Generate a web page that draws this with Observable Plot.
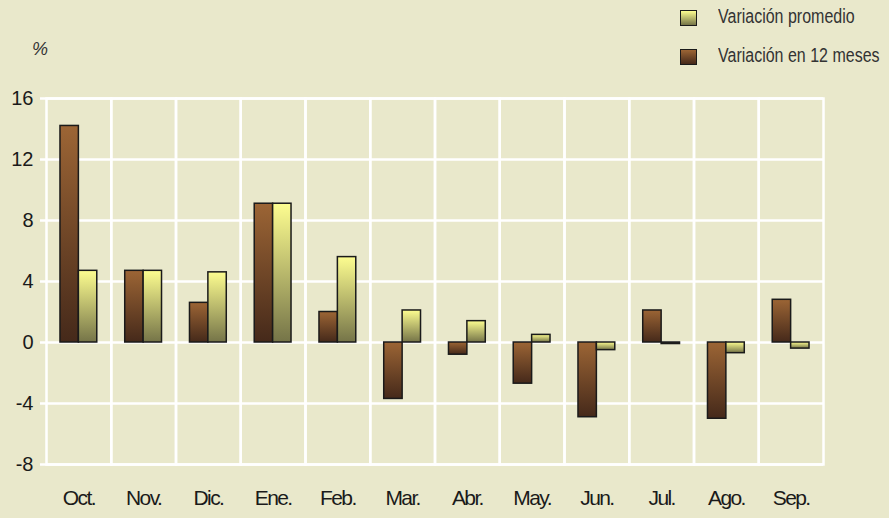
<!DOCTYPE html>
<html>
<head>
<meta charset="utf-8">
<script src="https://cdn.jsdelivr.net/npm/d3@7"></script>
<script src="https://cdn.jsdelivr.net/npm/@observablehq/plot@0.6"></script>
<style>
  html, body { margin: 0; padding: 0; background: #e9e8cb; }
  #wrap { position: relative; width: 889px; height: 518px; background: #e9e8cb; overflow: hidden; }
  .leg { position: absolute; font-family: "Liberation Sans", sans-serif; font-size: 20px; color: #333; white-space: nowrap; transform: scaleX(0.8); transform-origin: left center; }
  .sw { position: absolute; width: 15px; height: 14px; border: 1.5px solid #1a1a1a; }
  #pct { position: absolute; left: 32px; top: 39px; font-family: "Liberation Sans", sans-serif; font-style: italic; font-size: 18px; color: #333; }
</style>
</head>
<body>
<div id="wrap"></div>
<script>
const months = ["Oct.", "Nov.", "Dic.", "Ene.", "Feb.", "Mar.", "Abr.", "May.", "Jun.", "Jul.", "Ago.", "Sep."];
const var12 = [14.2, 4.7, 2.6, 9.1, 2.0, -3.7, -0.8, -2.7, -4.9, 2.1, -5.0, 2.8];
const varProm = [4.7, 4.7, 4.6, 9.1, 5.6, 2.1, 1.4, 0.5, -0.5, -0.1, -0.7, -0.4];
const seriesNames = ["Variación en 12 meses", "Variación promedio"];
const yTicks = [-8, -4, 0, 4, 8, 12, 16];

const data12 = months.map((m, i) => ({month: m, series: seriesNames[0], value: var12[i]}));
const dataProm = months.map((m, i) => ({month: m, series: seriesNames[1], value: varProm[i]}));

const chart = Plot.plot({
  width: 889,
  height: 518,
  marginLeft: 46,
  marginRight: 66,
  marginTop: 98,
  marginBottom: 54,
  style: {background: "transparent", fontFamily: "Liberation Sans, sans-serif", color: "#1a1a1a"},
  fx: {domain: months, padding: 0, round: false, label: null},
  x: {domain: seriesNames, paddingInner: 0, paddingOuter: 0.76, round: false, axis: null},
  y: {domain: [-8, 16], label: null},
  marks: [
    Plot.gridY(yTicks, {stroke: "white", strokeOpacity: 1, strokeWidth: 2.5}),
    Plot.frame({stroke: "white", strokeWidth: 2.5}),
    Plot.barY(data12, {fx: "month", x: "series", y: "value", fill: "url(#gBrown)", stroke: "#1a1a1a", strokeWidth: 1.5}),
    Plot.barY(dataProm, {fx: "month", x: "series", y: "value", fill: "url(#gYellow)", stroke: "#1a1a1a", strokeWidth: 1.5}),
    Plot.axisY(yTicks, {tickSize: 6, tickPadding: 7, stroke: "white", strokeWidth: 2.5, fontSize: 20, fill: "#1a1a1a", tickFormat: d => String(d)}),
    Plot.axisFx({anchor: "bottom", tickSize: 0, tickPadding: 26, fontSize: 21, fill: "#1a1a1a", label: null})
  ]
});

const ns = "http://www.w3.org/2000/svg";
const defs = document.createElementNS(ns, "defs");
function grad(id, top, bottom) {
  const g = document.createElementNS(ns, "linearGradient");
  g.setAttribute("id", id);
  g.setAttribute("x1", "0"); g.setAttribute("y1", "0");
  g.setAttribute("x2", "0"); g.setAttribute("y2", "1");
  [[0, top], [1, bottom]].forEach(([o, c]) => {
    const s = document.createElementNS(ns, "stop");
    s.setAttribute("offset", o);
    s.setAttribute("stop-color", c);
    g.appendChild(s);
  });
  defs.appendChild(g);
}
grad("gBrown", "#9c6535", "#45291a");
grad("gYellow", "#fdfd90", "#757448");
chart.insertBefore(defs, chart.firstChild);
chart.querySelectorAll('[aria-label="fx-axis tick label"] text').forEach(t => t.setAttribute("letter-spacing", "-1.6"));

const wrap = document.getElementById("wrap");
wrap.appendChild(chart);
chart.style.position = "absolute";
chart.style.left = "0";
chart.style.top = "0";

const pct = document.createElement("div");
pct.id = "pct"; pct.textContent = "%";
wrap.appendChild(pct);

const legendItems = [
  {label: seriesNames[1], grad: "linear-gradient(#fdfd90, #757448)", top: 10},
  {label: seriesNames[0], grad: "linear-gradient(#9c6535, #45291a)", top: 49}
];
legendItems.forEach(it => {
  const sw = document.createElement("div");
  sw.className = "sw";
  sw.style.left = "680px"; sw.style.top = it.top + "px";
  sw.style.background = it.grad;
  wrap.appendChild(sw);
  const tx = document.createElement("div");
  tx.className = "leg";
  tx.style.left = "718px"; tx.style.top = (it.top - 5) + "px";
  tx.textContent = it.label;
  wrap.appendChild(tx);
});
</script>
</body>
</html>
